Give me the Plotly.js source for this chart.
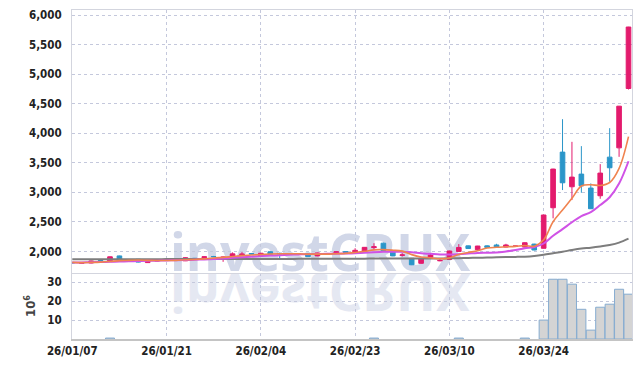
<!DOCTYPE html>
<html>
<head>
<meta charset="utf-8">
<script src="https://cdn.plot.ly/plotly-3.0.1.min.js"></script>
<style>html,body{margin:0;padding:0;background:#fff;}#chart{width:642px;height:367px;}</style>
</head>
<body>
<div id="chart"></div>
<script>
// ---- data ----
const dates = ["26/01/07","26/01/08","26/01/09","26/01/12","26/01/13","26/01/14","26/01/15","26/01/16","26/01/19","26/01/20",
"26/01/21","26/01/22","26/01/23","26/01/26","26/01/27","26/01/28","26/01/29","26/01/30","26/02/02","26/02/03",
"26/02/04","26/02/05","26/02/06","26/02/09","26/02/10","26/02/11","26/02/12","26/02/13","26/02/19","26/02/20",
"26/02/23","26/02/24","26/02/25","26/02/26","26/02/27","26/03/03","26/03/04","26/03/05","26/03/06","26/03/09",
"26/03/10","26/03/11","26/03/12","26/03/13","26/03/16","26/03/17","26/03/18","26/03/19","26/03/20","26/03/23",
"26/03/24","26/03/25","26/03/26","26/03/27","26/03/30","26/03/31","26/04/01","26/04/02","26/04/03","26/04/06"];
const openP = [1815,1800,1805,1848,1830,1925,1862,1868,1812,1840,
1848,1855,1842,1885,1895,1915,1890,1915,1945,1965,
1925,1995,1970,1962,1965,1970,1925,1958,1975,1998,
1978,1995,2065,2140,2015,1935,1885,1800,1905,1842,
1865,2000,2095,2030,2095,2110,2075,2090,2075,2125,
2054,2740,3681,3095,3309,3073,2943,3596,3753,4757];
const highP = [1818,1812,1845,1855,1915,1930,1868,1872,1860,1850,
1855,1862,1900,1890,1915,1925,1915,1985,1990,1975,
1975,2000,1978,1972,1972,1975,1980,1965,2000,2003,
2055,2075,2140,2150,2020,1970,1890,1890,1960,1870,
2012,2125,2100,2095,2105,2130,2130,2095,2155,2130,
2622,3400,4238,3855,3782,3152,3478,4086,4462,5800];
const lowP = [1800,1790,1800,1838,1825,1862,1855,1815,1808,1835,
1842,1850,1838,1875,1890,1905,1825,1910,1940,1950,
1920,1950,1868,1955,1955,1908,1920,1950,1970,1968,
1975,1990,2025,2010,1920,1915,1770,1795,1895,1835,
1860,1995,2045,2025,2060,2070,2070,2085,2070,2020,
2050,2561,3039,2870,2993,2720,2892,3179,3601,4740];
const closeP = [1808,1808,1840,1842,1910,1868,1860,1820,1855,1845,
1850,1858,1895,1880,1910,1912,1905,1960,1955,1958,
1970,1955,1962,1965,1960,1912,1975,1955,1995,1975,
2020,2070,2080,2015,1925,1942,1775,1885,1940,1848,
2008,2068,2050,2092,2070,2075,2110,2091,2148,2025,
2617,3394,3162,3258,3111,2723,3326,3416,4458,5797];
const volume = [0,0,0,0,0.5,0,0,0,0,0,
0,0,0,0,0,0,0,0,0,0,
0,0,0,0,0,0,0,0,0,0,
0,0,0.5,0,0,0,0,0,0,0,
0,0.5,0,0,0,0,0,0,0.5,0,
10.0,31.6,31.6,29.0,15.7,4.7,16.8,18.4,26.3,23.7];
const ma5 = [1815,1812,1815,1820,1830,1845,1850,1855,1850,1848,
1848,1850,1860,1865,1875,1890,1900,1915,1930,1940,
1950,1958,1962,1962,1962,1955,1955,1955,1962,1968,
1984,2003,2028,2032,2022,2006,1947,1908,1893,1877,
1891,1949,1982,2013,2058,2071,2079,2087,2099,2090,
2198,2503,2701,2899,3108,3130,3116,3167,3407,3944];
const ma10 = [1812,1815,1818,1822,1826,1830,1834,1838,1842,1845,
1848,1852,1856,1860,1866,1872,1880,1892,1902,1912,
1922,1930,1938,1945,1950,1955,1958,1960,1962,1965,
1970,1978,1988,1995,1995,1995,1985,1970,1960,1950,
1949,1955,1965,1975,1978,1981,2000,2025,2056,2074,
2135,2267,2378,2495,2599,2664,2785,2918,3149,3526];
const ma60 = [1868,1868,1869,1869,1869,1870,1870,1870,1870,1870,
1871,1871,1871,1871,1872,1872,1872,1872,1873,1873,
1873,1874,1874,1874,1875,1875,1875,1876,1876,1877,
1878,1879,1880,1881,1882,1882,1881,1881,1882,1882,
1884,1887,1890,1894,1897,1901,1905,1908,1913,1925,
1945,1970,1995,2025,2050,2065,2085,2110,2150,2216];
const dateTicks = ["26/01/07","26/01/21","26/02/04","26/02/23","26/03/10","26/03/24"];
const priceTicks = [2000,2500,3000,3500,4000,4500,5000,5500,6000];
const volTicks = [10,20,30];

// ---- styles ----
const UP = "#e31b6d", DOWN = "#2b96c9";
const GRID = "rgb(196,200,220)";
const AXLINE = "#d3d5de";
const tickFont = {family:"'DejaVu Sans Condensed','DejaVu Sans',sans-serif", size:11.5, color:"#222", weight:700};

const traces = [
  {type:"candlestick", x:dates, open:openP, high:highP, low:lowP, close:closeP,
   xaxis:"x2", yaxis:"y",
   increasing:{line:{color:UP,width:1}, fillcolor:UP},
   decreasing:{line:{color:DOWN,width:1}, fillcolor:DOWN},
   whiskerwidth:0, hoverinfo:"skip"},
  {type:"scatter", mode:"lines", x:dates, y:ma60, xaxis:"x2", yaxis:"y",
   line:{color:"#7d7d7d", width:2, shape:"spline"}, hoverinfo:"skip"},
  {type:"scatter", mode:"lines", x:dates, y:ma10, xaxis:"x2", yaxis:"y",
   line:{color:"#d052e6", width:2, shape:"spline"}, hoverinfo:"skip"},
  {type:"scatter", mode:"lines", x:dates, y:ma5, xaxis:"x2", yaxis:"y",
   line:{color:"#f0834f", width:1.6, shape:"spline"}, hoverinfo:"skip"},
  {type:"bar", x:dates, y:volume, xaxis:"x", yaxis:"y2",
   marker:{color:"#d4d4d4", line:{color:"#86acd0", width:volume.map(v => v > 0 ? 1 : 0)}}, hoverinfo:"skip"}
];

const volTop = (339-273)/329;
const layout = {
  width:642, height:367,
  margin:{l:72, r:10, t:10, b:28},
  paper_bgcolor:"#ffffff", plot_bgcolor:"#ffffff",
  showlegend:false, bargap:0.04,
  font:tickFont,
  xaxis:{type:"category", anchor:"y2", domain:[0,1], range:[-0.03,59.37],
    tickmode:"array", tickvals:dateTicks, ticktext:dateTicks, tickangle:0,
    showgrid:true, gridcolor:GRID, griddash:"dot", gridwidth:1,
    showline:true, linecolor:"#c4c4c4", linewidth:2, mirror:false, ticks:"",
    tickfont:tickFont, rangeslider:{visible:false}, fixedrange:true, zeroline:false},
  xaxis2:{type:"category", anchor:"y", matches:"x", domain:[0,1],
    tickmode:"array", tickvals:dateTicks, showticklabels:false,
    showgrid:true, gridcolor:GRID, griddash:"dot", gridwidth:1,
    showline:true, linecolor:AXLINE, linewidth:1, mirror:true, ticks:"",
    rangeslider:{visible:false}, fixedrange:true, zeroline:false},
  yaxis:{domain:[volTop,1], anchor:"x2", range:[1636,6085],
    tickmode:"array", tickvals:priceTicks, tickformat:",d",
    showgrid:true, gridcolor:GRID, griddash:"dot", gridwidth:1,
    showline:true, linecolor:AXLINE, linewidth:1, mirror:true, ticks:"",
    ticklabelstandoff:7, tickfont:tickFont, zeroline:false, fixedrange:true},
  yaxis2:{domain:[0,volTop], anchor:"x", range:[0,34.9],
    tickmode:"array", tickvals:volTicks,
    showgrid:true, gridcolor:GRID, griddash:"dot", gridwidth:1,
    showline:true, linecolor:AXLINE, linewidth:1, mirror:true, ticks:"",
    ticklabelstandoff:7, tickfont:tickFont, zeroline:false, fixedrange:true,
    title:{text:"10<sup>6</sup>", standoff:8, font:{family:"'DejaVu Sans Condensed','DejaVu Sans',sans-serif", size:13, color:"#444"}}},
  annotations:[
    {text:"investCRUX", xref:"paper", yref:"paper", x:0.443, y:0.2705, xanchor:"center", yanchor:"middle",
     showarrow:false, font:{family:"'Open Sans',sans-serif", size:52, color:"rgb(209,215,232)", weight:700}},
    {text:"investCRUX", xref:"paper", yref:"paper", x:0.443, y:0.2705, xanchor:"center", yanchor:"middle",
     showarrow:false, font:{family:"'Open Sans',sans-serif", size:52, color:"rgb(229,232,242)", weight:700}}
  ]
};

const gd = document.getElementById("chart");
Plotly.newPlot(gd, traces, layout, {displayModeBar:false, staticPlot:true}).then(function(){
  try {
    const anns = gd.querySelectorAll(".annotation");
    const below = gd.querySelector(".main-svg .layer-below");
    if (anns.length === 2 && below) {
      const c = 272.5;
      anns[1].setAttribute("transform", "translate(0," + (2*c) + ") scale(1,-1)");
      below.appendChild(anns[0]);
      below.appendChild(anns[1]);
    }
  } catch(e) {}
});
</script>
</body>
</html>
